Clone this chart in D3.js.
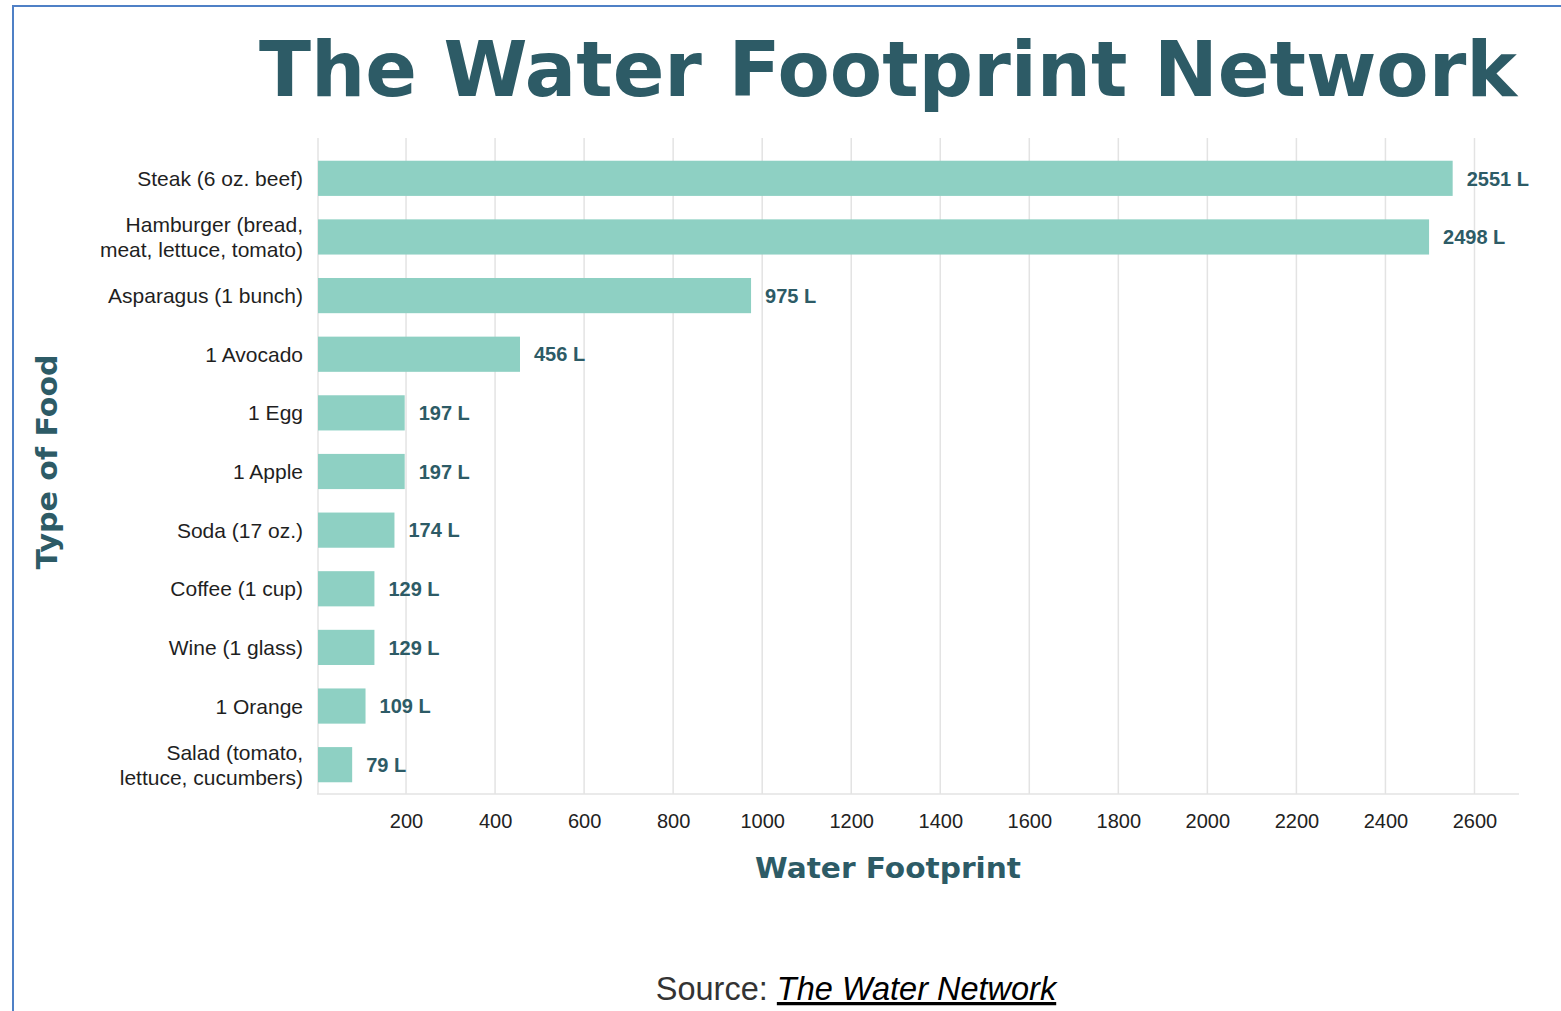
<!DOCTYPE html>
<html lang="en">
<head>
    <meta charset="UTF-8">
    <title>The Water Footprint Network</title>
    <script src="https://d3js.org/d3.v7.min.js"></script>
    <style>
        body { margin: 0; background: #fff; }
        svg { display: block; }
    </style>
</head>
<body>
    <script>
        // data
        const foods = [
            ["Steak (6 oz. beef)"],
            ["Hamburger (bread,", "meat, lettuce, tomato)"],
            ["Asparagus (1 bunch)"],
            ["1 Avocado"],
            ["1 Egg"],
            ["1 Apple"],
            ["Soda (17 oz.)"],
            ["Coffee (1 cup)"],
            ["Wine (1 glass)"],
            ["1 Orange"],
            ["Salad (tomato,", "lettuce, cucumbers)"]
        ];
        const litres = [2551, 2498, 975, 456, 197, 197, 174, 129, 129, 109, 79];
        const xTicks = [200, 400, 600, 800, 1000, 1200, 1400, 1600, 1800, 2000, 2200, 2400, 2600];

        const W = 1561, H = 1011;
        const teal = "#2d5b66";
        const barColor = "#8ed0c3";
        const heavy = "'DejaVu Sans', sans-serif";
        const plain = "'Liberation Sans', Arial, sans-serif";

        const svg = d3.select("body").append("svg")
            .attr("width", W)
            .attr("height", H);

        // page frame (top + left edge only)
        svg.append("path")
            .attr("d", "M13,1011 L13,6 L1561,6")
            .attr("fill", "none")
            .attr("stroke", "#4f80c6")
            .attr("stroke-width", 2);

        // title
        svg.append("text")
            .attr("x", 259)
            .attr("y", 96)
            .attr("textLength", 1258)
            .attr("lengthAdjust", "spacingAndGlyphs")
            .style("font-family", heavy)
            .style("font-weight", "bold")
            .style("font-size", "76px")
            .attr("fill", teal)
            .text("The Water Footprint Network");

        let x = d3.scaleLinear().domain([0, 2700]).range([317, 1519]);
        let y = d3.scaleBand()
            .domain(d3.range(foods.length))
            .range([149, 794])
            .paddingInner(0.4)
            .paddingOuter(0.2);

        // grid lines
        svg.append("g")
            .selectAll("line")
            .data(xTicks)
            .enter().append("line")
            .attr("x1", d => x(d))
            .attr("x2", d => x(d))
            .attr("y1", 138)
            .attr("y2", 794)
            .attr("stroke", "#e3e3e3")
            .attr("stroke-width", 1.5);

        // left axis line + baseline
        svg.append("line")
            .attr("x1", 318).attr("x2", 318)
            .attr("y1", 138).attr("y2", 794)
            .attr("stroke", "#e3e3e3").attr("stroke-width", 1.5);
        svg.append("line")
            .attr("x1", 317).attr("x2", 1519)
            .attr("y1", 794).attr("y2", 794)
            .attr("stroke", "#e3e3e3").attr("stroke-width", 1.5);

        // x tick labels
        const xAxis = svg.append("g")
            .attr("transform", "translate(0,794)")
            .call(d3.axisBottom(x).tickValues(xTicks).tickFormat(d3.format("d")).tickSize(0).tickPadding(20));
        xAxis.select(".domain").remove();
        xAxis.selectAll("text")
            .style("font-family", plain)
            .style("font-size", "20px")
            .attr("fill", "#222");

        // bars
        svg.append("g")
            .selectAll("rect")
            .data(litres)
            .enter().append("rect")
            .attr("x", x(0) + 1)
            .attr("y", (d, i) => y(i))
            .attr("width", d => x(d) - x(0) - 1)
            .attr("height", y.bandwidth())
            .attr("fill", barColor);

        // value labels
        svg.append("g")
            .selectAll("text")
            .data(litres)
            .enter().append("text")
            .attr("x", d => x(d) + 14)
            .attr("y", (d, i) => y(i) + y.bandwidth() / 2)
            .attr("dy", "0.36em")
            .style("font-family", plain)
            .style("font-weight", "bold")
            .style("font-size", "20px")
            .attr("fill", teal)
            .text(d => d + " L");

        // category labels
        const cat = svg.append("g")
            .selectAll("text")
            .data(foods)
            .enter().append("text")
            .attr("x", 303)
            .attr("y", (d, i) => y(i) + y.bandwidth() / 2)
            .attr("text-anchor", "end")
            .style("font-family", plain)
            .style("font-size", "21px")
            .attr("fill", "#1f1f1f");
        cat.each(function (d) {
            const t = d3.select(this);
            d.forEach((line, k) => {
                t.append("tspan")
                    .attr("x", 303)
                    .attr("dy", k === 0 ? (0.36 - (d.length - 1) * 0.58) + "em" : "1.17em")
                    .text(line);
            });
        });

        // axis titles
        svg.append("text")
            .attr("transform", "translate(57,462) rotate(-90)")
            .attr("text-anchor", "middle")
            .attr("textLength", 215)
            .attr("lengthAdjust", "spacingAndGlyphs")
            .style("font-family", heavy)
            .style("font-weight", "bold")
            .style("font-size", "28px")
            .attr("fill", teal)
            .text("Type of Food");

        svg.append("text")
            .attr("x", 888)
            .attr("y", 878)
            .attr("text-anchor", "middle")
            .attr("textLength", 266)
            .attr("lengthAdjust", "spacingAndGlyphs")
            .style("font-family", heavy)
            .style("font-weight", "bold")
            .style("font-size", "28px")
            .attr("fill", teal)
            .text("Water Footprint");

        // source line
        const src = svg.append("text")
            .attr("x", 856)
            .attr("y", 1000)
            .attr("text-anchor", "middle")
            .style("font-family", plain)
            .style("font-size", "32.5px")
            .attr("fill", "#333");
        src.append("tspan").text("Source: ");
        src.append("tspan")
            .attr("fill", "#000")
            .style("font-style", "italic")
            .style("text-decoration", "underline")
            .text("The Water Network");
    </script>
</body>
</html>
